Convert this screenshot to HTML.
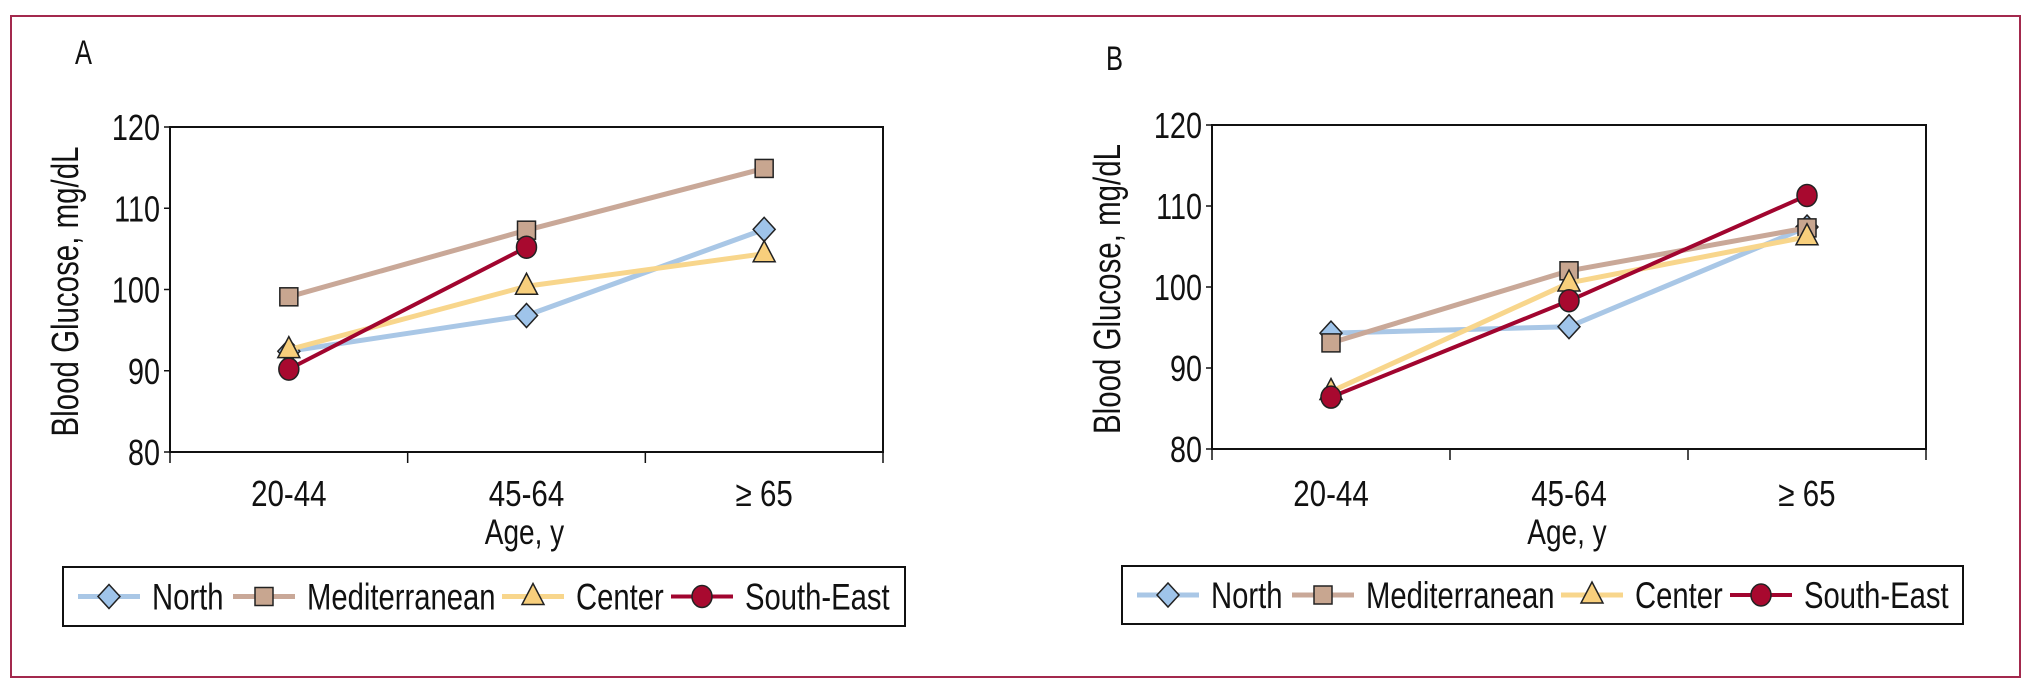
<!DOCTYPE html>
<html><head><meta charset="utf-8"><style>
html,body{margin:0;padding:0;background:#fff;}
svg{display:block;}
text{font-family:"Liberation Sans",sans-serif;fill:#111;}
</style></head><body>
<svg id="fig" width="2033" height="691" viewBox="0 0 2033 691" xmlns="http://www.w3.org/2000/svg">
<rect x="11" y="16" width="2009" height="661" fill="none" stroke="#a3294d" stroke-width="2"/>
</svg>
<script>
const categories = ["20-44", "45-64", "\u2265 65"];
const yTicks = [80, 90, 100, 110, 120];
const seriesNames = ["North", "Mediterranean", "Center", "South-East"];
const aNorth = [92.4, 96.8, 107.4];
const aMed = [99.1, 107.3, 114.9];
const aCenter = [92.6, 100.4, 104.4];
const aSouthEast = [90.2, 105.2, null];
const bNorth = [94.3, 95.1, 107.4];
const bMed = [93.1, 102.0, 107.3];
const bCenter = [87.1, 100.5, 106.2];
const bSouthEast = [86.4, 98.3, 111.3];

const NS = "http://www.w3.org/2000/svg";
const svg = document.getElementById('fig');
const styles = [
  {line:"#a9c7e6", fill:"#9fc4ea", shape:"diamond"},
  {line:"#c9a898", fill:"#c8a690", shape:"square"},
  {line:"#f8d68c", fill:"#f8cf7c", shape:"triangle"},
  {line:"#a1052f", fill:"#a8092f", shape:"circle"}
];
function mk(tag, attrs, parent){
  const e = document.createElementNS(NS, tag);
  for (const k in attrs) e.setAttribute(k, attrs[k]);
  (parent||svg).appendChild(e);
  return e;
}
function narrow(t, f){
  const w = t.getComputedTextLength();
  if (w > 0){
    t.setAttribute('textLength', (w*f).toFixed(1));
    t.setAttribute('lengthAdjust', 'spacingAndGlyphs');
  }
}
function marker(g, shape, cx, cy, fill){
  let e;
  if (shape==="diamond") e = mk('polygon',{points:`${cx},${cy-12} ${cx+11},${cy} ${cx},${cy+12} ${cx-11},${cy}`,fill:fill,stroke:"#222","stroke-width":1.5},g);
  else if (shape==="square") e = mk('rect',{x:cx-9,y:cy-9,width:18,height:18,fill:fill,stroke:"#222","stroke-width":1.5},g);
  else if (shape==="triangle") e = mk('polygon',{points:`${cx},${cy-13} ${cx+11},${cy+8} ${cx-11},${cy+8}`,fill:fill,stroke:"#222","stroke-width":1.5},g);
  else e = mk('ellipse',{cx:cx,cy:cy,rx:10,ry:11,fill:fill,stroke:"#222","stroke-width":1.5},g);
  return e;
}
function panel(id, letter, lx, ly, L, R, T, B, series, leg){
  const g = mk('g',{});
  
  
  const lt = mk('text',{x:lx,y:ly,"font-size":34},g); lt.textContent = letter;
  
  
  narrow(lt, 0.75);
  const yS = v => B - (v-80)/40*(B-T);
  const bw = (R-L)/categories.length;
  const xS = i => L + bw*(i+0.5);
  const frame = mk('rect',{x:L,y:T,width:R-L,height:B-T,fill:"none",stroke:"#111","stroke-width":2},g);
  
  
  yTicks.forEach(v=>{
    const y = yS(v);
    mk('line',{x1:L-6,y1:y,x2:L,y2:y,stroke:"#111","stroke-width":1.5},g);
    const t = mk('text',{x:L-10,y:y+13,"font-size":36,"text-anchor":"end"},g);
    t.textContent = v;
    
    
    narrow(t, 0.8);
  });
  for (let i=0;i<=categories.length;i++){
    const x = L + bw*i;
    mk('line',{x1:x,y1:B,x2:x,y2:B+11,stroke:"#111","stroke-width":1.5},g);
  }
  categories.forEach((c,i)=>{
    const t = mk('text',{x:xS(i),y:506,"font-size":36,"text-anchor":"middle"},g);
    t.textContent = c;
    
    
    narrow(t, 0.82);
  });
  const xt = mk('text',{x:xS(1)-2,y:544,"font-size":35,"text-anchor":"middle"},g);
  xt.textContent = "Age, y";
  
  
  narrow(xt, 0.8);
  const yc = (T+B)/2+2, yx = L-92;
  const yt = mk('text',{x:yx,y:yc,"font-size":38,"text-anchor":"middle",transform:`rotate(-90 ${yx} ${yc})`,textLength:290,lengthAdjust:"spacingAndGlyphs"},g);
  yt.textContent = "Blood Glucose, mg/dL";
  
  
  series.forEach((vals,si)=>{
    const st = styles[si];
    const sg = mk('g',{},g);
    
    
    const pts = [];
    vals.forEach((v,i)=>{ if(v!==null) pts.push([xS(i),yS(v)]); });
    const pl = mk('polyline',{points:pts.map(p=>p.join(',')).join(' '),fill:"none",stroke:st.line,"stroke-width":si===3?4:5,"stroke-linejoin":"round"},sg);
    
    
    pts.forEach(p=>{
      const m = marker(sg, st.shape, p[0], p[1], st.fill);
      
      
    });
  });
  const lg = mk('g',{},g);
  
  
  mk('rect',{x:leg.x,y:leg.y,width:leg.w,height:leg.h,fill:"#fff",stroke:"#111","stroke-width":2},lg);
  const cy = leg.y + leg.h/2;
  seriesNames.forEach((n,si)=>{
    const ox = leg.x + leg.offs[si];
    const eg = mk('g',{},lg);
    
    
    mk('line',{x1:ox,y1:cy,x2:ox+62,y2:cy,stroke:styles[si].line,"stroke-width":si===3?4:5},eg);
    marker(eg, styles[si].shape, ox+31, cy, styles[si].fill);
    const t = mk('text',{x:ox+74,y:cy+13,"font-size":37},eg);
    t.textContent = n;
    narrow(t, 0.79);
  });
}
panel('a','A',75,64,170,883,127,452,[aNorth,aMed,aCenter,aSouthEast],{x:63,y:567,w:842,h:59,offs:[15,170,439,608]});
panel('b','B',1106,70,1212,1926,125,449,[bNorth,bMed,bCenter,bSouthEast],{x:1122,y:566,w:841,h:58,offs:[15,170,439,608]});
</script>
</body></html>
